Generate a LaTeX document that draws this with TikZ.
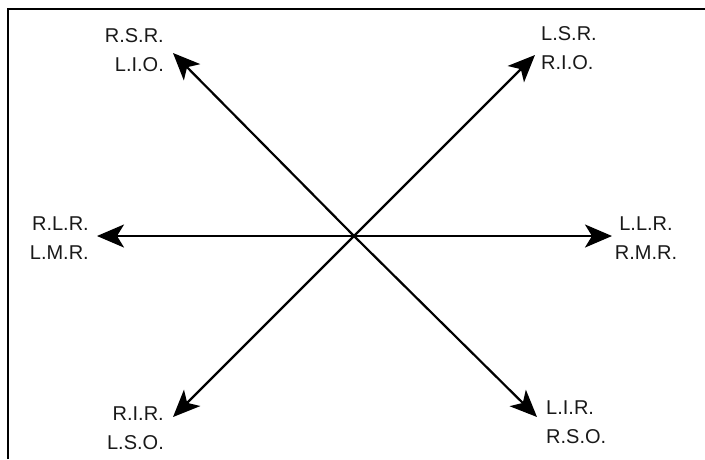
\documentclass[tikz,border=0pt]{standalone}
\usepackage{fontspec}
\setmainfont{Liberation Sans}
\usetikzlibrary{arrows.meta}
\begin{document}
\begin{tikzpicture}[x=1pt,y=-1pt,
  arr/.style={line width=2.2pt,-{Stealth[length=27pt,width=23pt,inset=7pt]}},
  lbl/.style={inner sep=0pt,font=\fontsize{20}{29}\selectfont,text=black!90}]
  \useasboundingbox (0,0) rectangle (705,459);
  % open frame: left and top edges only
  \draw[line width=2pt] (7.5,459) -- (7.5,8.5) -- (705,8.5);
  % centre and arrow tips
  \coordinate (c) at (354,236);
  \coordinate (tl) at (173,53);
  \coordinate (tr) at (535,55);
  \coordinate (l) at (97,236);
  \coordinate (r) at (612,236);
  \coordinate (bl) at (173,417);
  \coordinate (br) at (537,417);
  \draw[arr] (c) -- (tl);
  \draw[arr] (c) -- (tr);
  \draw[arr] (c) -- (l);
  \draw[arr] (c) -- (r);
  \draw[arr] (c) -- (bl);
  \draw[arr] (c) -- (br);
  % labels
  \node[lbl,align=right,anchor=east] (ntl) at (164,50) {R.S.R.\\L.I.O.};
  \node[lbl,align=left,anchor=west] (ntr) at (541,48) {L.S.R.\\R.I.O.};
  \node[lbl,align=right,anchor=east] (nl) at (89,238) {R.L.R.\\L.M.R.};
  \node[lbl,align=center] (nr) at (646,238) {L.L.R.\\R.M.R.};
  \node[lbl,align=right,anchor=east] (nbl) at (164,428) {R.I.R.\\L.S.O.};
  \node[lbl,align=left,anchor=west] (nbr) at (546,422) {L.I.R.\\R.S.O.};
\end{tikzpicture}
\end{document}
